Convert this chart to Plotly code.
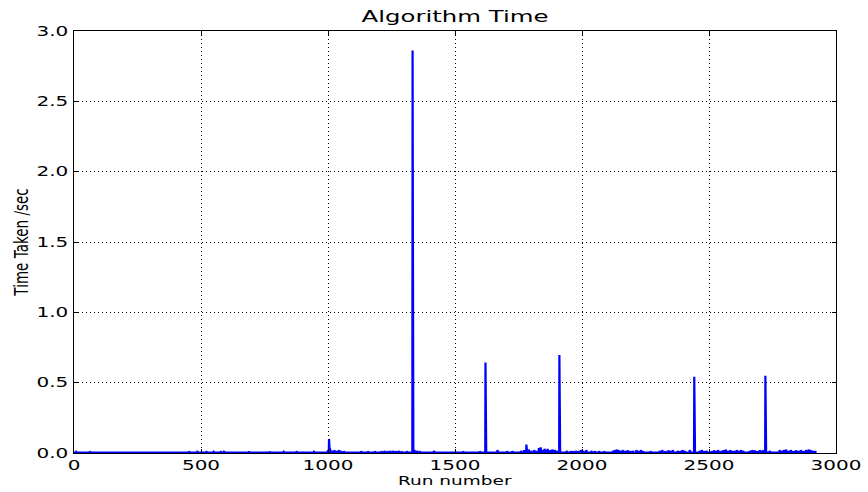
import numpy as np
import plotly.graph_objects as go

# Number of runs recorded and the resting time between visible blips
n_runs = 2924
baseline_time = 0.002

# Runs whose timing stands out from the resting level, and their times (s)
blip_runs = [
    9, 62, 453, 486, 521, 550, 578, 591, 688, 770, 826, 876, 945, 1000,
    1004, 1008, 1015, 1025, 1035, 1042, 1050, 1062, 1131, 1157, 1184,
    1210, 1222, 1234, 1245, 1256, 1267, 1278, 1289, 1311,
    1333, 1340, 1350, 1361, 1417, 1532, 1597,
    1620, 1667, 1705, 1726, 1760, 1772, 1781, 1790, 1800, 1812, 1822,
    1830, 1837, 1845, 1852, 1860, 1865, 1875, 1884, 1893, 1900,
    1911, 1940, 1955, 1963, 1975, 1985, 1995, 2005, 2017, 2037, 2050,
    2067, 2087, 2121, 2128, 2136, 2144, 2152, 2160, 2170, 2180, 2190,
    2200, 2214, 2224, 2232, 2240, 2270, 2306, 2316, 2328, 2340, 2350,
    2357, 2377, 2386, 2395, 2404, 2424,
    2442, 2463, 2472, 2482, 2490, 2510, 2520, 2528, 2536, 2549, 2558,
    2566, 2575, 2584, 2592, 2600, 2610, 2618, 2626, 2634, 2660, 2670,
    2680, 2690, 2700, 2708, 2713,
    2722, 2739, 2778, 2786, 2794, 2803, 2812, 2822, 2832, 2842, 2852,
    2862, 2872, 2882, 2892, 2900, 2910, 2918,
]
blip_times = [
    0.008, 0.010, 0.010, 0.008, 0.012, 0.008, 0.012, 0.008, 0.010, 0.010, 0.008, 0.012, 0.008, 0.020,
    0.100, 0.030, 0.015, 0.020, 0.015, 0.020, 0.015, 0.012, 0.012, 0.010, 0.010,
    0.012, 0.015, 0.012, 0.015, 0.015, 0.012, 0.015, 0.010, 0.012,
    2.862, 0.020, 0.015, 0.012, 0.015, 0.010, 0.010,
    0.644, 0.020, 0.012, 0.012, 0.015, 0.020, 0.060, 0.025, 0.015, 0.020, 0.015,
    0.035, 0.040, 0.020, 0.030, 0.025, 0.030, 0.020, 0.025, 0.020, 0.015,
    0.697, 0.015, 0.012, 0.010, 0.015, 0.012, 0.020, 0.015, 0.020, 0.015, 0.012,
    0.012, 0.010, 0.015, 0.020, 0.025, 0.020, 0.015, 0.020, 0.015, 0.018, 0.012,
    0.015, 0.020, 0.015, 0.020, 0.012, 0.012, 0.015, 0.020, 0.012, 0.018, 0.015,
    0.020, 0.015, 0.012, 0.020, 0.015, 0.020,
    0.542, 0.015, 0.020, 0.012, 0.015, 0.012, 0.018, 0.015, 0.020, 0.015, 0.020,
    0.025, 0.015, 0.020, 0.012, 0.015, 0.020, 0.015, 0.020, 0.015, 0.015, 0.020,
    0.018, 0.012, 0.020, 0.015, 0.020,
    0.549, 0.015, 0.020, 0.015, 0.020, 0.025, 0.015, 0.020, 0.012, 0.018, 0.015,
    0.020, 0.012, 0.020, 0.025, 0.020, 0.015, 0.012,
]

x_ticks = [0, 500, 1000, 1500, 2000, 2500, 3000]
y_ticks = [0.0, 0.5, 1.0, 1.5, 2.0, 2.5, 3.0]

runs = np.arange(n_runs)
times = np.full(n_runs, baseline_time)
times[blip_runs] = blip_times

FONT = "DejaVu Sans"

fig = go.Figure(
    go.Scatter(
        x=runs,
        y=times,
        mode="lines",
        line=dict(color="#0000ff", width=2.2),
        hoverinfo="skip",
    )
)

axis_common = dict(
    automargin=False,
    showline=True,
    linecolor="black",
    linewidth=1,
    mirror="ticks",
    ticks="inside",
    ticklen=4,
    tickcolor="black",
    showgrid=True,
    gridcolor="black",
    gridwidth=0.7,
    griddash="1px,3px",
    zeroline=False,
    tickfont=dict(family=FONT, size=13.5, color="black"),
)

fig.update_xaxes(
    **axis_common,
    range=[0, 3000],
    tickvals=x_ticks,
    ticktext=[str(v) for v in x_ticks],
    ticklabelstandoff=0,
    title=dict(text="Run number", font=dict(family=FONT, size=12.5, color="black"), standoff=0),
)
fig.update_yaxes(
    **axis_common,
    range=[0, 3.0],
    tickvals=y_ticks,
    ticktext=[f"{v:.1f}" for v in y_ticks],
    ticklabelstandoff=2,
    title=dict(text="Time Taken /sec", font=dict(family=FONT, size=13.5, color="black"), standoff=17),
)

fig.update_layout(
    width=868,
    height=492,
    margin=dict(l=74, r=32, t=31, b=39),
    paper_bgcolor="white",
    plot_bgcolor="white",
    showlegend=False,
    title=dict(
        text="Algorithm Time",
        font=dict(family=FONT, size=16.5, color="black"),
        x=0.5,
        xref="paper",
        xanchor="center",
        y=1 - 16 / 492,
        yanchor="middle",
    ),
)

# Widen the lettering horizontally so the labels keep a wide, flat look
stretch_js = """
var gd = document.getElementById('{plot_id}');
function widenText() {
  var S = 1.48;
  gd.querySelectorAll('text').forEach(function (t) {
    var tr = t.getAttribute('transform') || '';
    if (tr.indexOf('scale(') >= 0 || !t.textContent) return;
    var bb = t.getBBox();
    var s;
    if (tr.indexOf('rotate') >= 0) {
      var cy = bb.y + bb.height / 2;
      s = ' translate(0,' + cy + ') scale(1,' + S + ') translate(0,' + (-cy) + ')';
    } else {
      var a = t.getAttribute('text-anchor') || 'start';
      var cx = a === 'middle' ? bb.x + bb.width / 2 : (a === 'end' ? bb.x + bb.width : bb.x);
      s = ' translate(' + cx + ',0) scale(' + S + ',1) translate(' + (-cx) + ',0)';
    }
    t.setAttribute('transform', tr + s);
  });
}
widenText();
gd.on('plotly_afterplot', widenText);
"""

fig.write_html("out.html", post_script=stretch_js)
